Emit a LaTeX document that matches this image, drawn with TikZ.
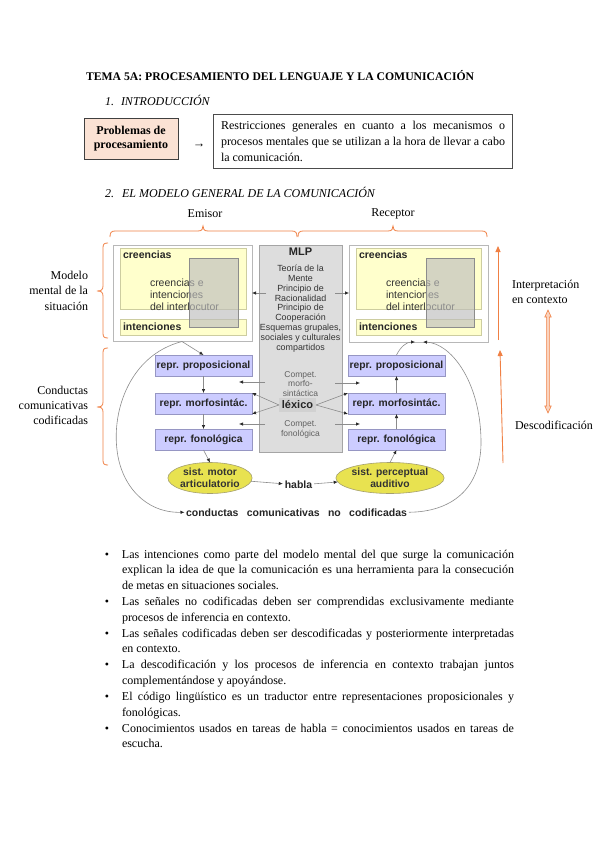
\documentclass[tikz,border=0pt]{standalone}
\usepackage{fontspec}
\setmainfont{Liberation Serif}
\setsansfont{Liberation Sans}
\usetikzlibrary{arrows.meta,shapes.geometric,calc}
\definecolor{orng}{RGB}{240,128,68}
\definecolor{pinkfill}{RGB}{251,226,212}
\definecolor{yfill}{RGB}{255,255,204}
\definecolor{yline}{RGB}{205,205,160}
\definecolor{lav}{RGB}{204,204,255}
\definecolor{lavline}{RGB}{150,150,195}
\definecolor{ellfill}{RGB}{232,226,80}
\definecolor{ellline}{RGB}{165,160,110}
\definecolor{mlpfill}{RGB}{221,221,221}
\definecolor{mlpline}{RGB}{165,165,165}
\definecolor{connc}{RGB}{140,140,140}
\newcommand{\fs}[2]{\fontsize{#1}{#2}\selectfont}
\newcommand{\bul}{\leavevmode\llap{•\hspace{13pt}}}
\newcommand{\obrtop}[4]{\draw[orline] (#1,#4) .. controls (#1,{#4-4}) and ({#1+1},{#4-6}) .. ({#1+5},{#4-6}) -- ({#2-5},{#4-6}) .. controls ({#2-1},{#4-6}) and (#2,{#4-8}) .. (#2,{#4-11}) .. controls (#2,{#4-8}) and ({#2+1},{#4-6}) .. ({#2+5},{#4-6}) -- ({#3-5},{#4-6}) .. controls ({#3-1},{#4-6}) and (#3,{#4-4}) .. (#3,#4);}
\newcommand{\obrleft}[4]{\draw[orline] (#1,#2) .. controls ({#1-4},#2) and ({#1-5},{#2+1}) .. ({#1-5},{#2+5}) -- ({#1-5},{#3-5}) .. controls ({#1-5},{#3-1}) and ({#1-7},#3) .. ({#1-11},#3) .. controls ({#1-7},#3) and ({#1-5},{#3+1}) .. ({#1-5},{#3+5}) -- ({#1-5},{#4-5}) .. controls ({#1-5},{#4-1}) and ({#1-4},#4) .. (#1,#4);}
\tikzset{
  orline/.style={draw=orng,line width=0.8pt},
  obox/.style={draw=black!28,fill=white,line width=0.8pt,anchor=north west},
  ybox/.style={draw=yline,fill=yfill,line width=0.8pt,anchor=north west},
  ovl/.style={draw=black!45,fill=black!26,fill opacity=0.65,line width=0.8pt,anchor=north west},
  mlpbox/.style={draw=mlpline,fill=mlpfill,line width=0.8pt,anchor=north west},
  rbox/.style={draw=lavline,fill=lav,line width=0.6pt,anchor=north west,minimum width=97pt,minimum height=21pt,font=\sffamily\bfseries\fs{10.3}{12},text=black!85},
  ellnode/.style={ellipse,draw=ellline,fill=ellfill,line width=0.6pt,minimum width=83pt,minimum height=31pt,align=center,font=\sffamily\bfseries\fs{10.3}{11.6},text=black!80},
  conn/.style={draw=connc,line width=0.6pt,-{Latex[length=4pt,width=3.4pt,color=black!85]}},
  oarrow/.style={draw=orng,line width=0.9pt,-{Triangle[length=6pt,width=5pt]}},
  serif12/.style={font=\fs{12}{15.8}},
  sansb/.style={font=\sffamily\bfseries\fs{10.5}{12},text=black!85},
}
\begin{document}
\begin{tikzpicture}[x=1pt,y=-1pt,every node/.style={inner sep=0pt,outer sep=0pt}]
\useasboundingbox[fill=white] (0,0) rectangle (599,848);

% ---------- heading
\node[anchor=base west,font=\fs{11.7}{14}\bfseries] (title) at (86,81) {TEMA 5A: PROCESAMIENTO DEL LENGUAJE Y LA COMUNICACIÓN};
\node[anchor=base west,font=\fs{12}{14}\itshape] (n1) at (105,106) {1.};
\node[anchor=base west,font=\fs{12}{14}\itshape] (h1) at (121,106) {INTRODUCCIÓN};

\node[draw=black!75,fill=pinkfill,line width=0.8pt,anchor=north west,minimum width=94pt,minimum height=41pt,align=center,font=\fs{12}{14}\bfseries] (prob) at (84,118) {Problemas de\\procesamiento};
\node[font=\fs{12.5}{14}] (arr) at (199,146) {→};
\node[draw=black!70,line width=0.8pt,anchor=north west,minimum width=299pt,minimum height=54pt] (restr) at (213,114) {};
\node[anchor=base west] (restrtxt) at (221,130) {\parbox[t]{284pt}{\fs{12}{15.8}Restricciones generales en cuanto a los mecanismos o\linebreak procesos mentales que se utilizan a la hora de llevar a cabo\linebreak la comunicación.}};

\node[anchor=base west,font=\fs{12}{14}\itshape] (n2) at (105,197) {2.};
\node[anchor=base west,font=\fs{12}{14}\itshape] (h2) at (122,197) {EL MODELO GENERAL DE LA COMUNICACIÓN};

% ---------- Emisor / Receptor
\node[anchor=base,serif12] (emisor) at (205,217) {Emisor};
\node[anchor=base,serif12] (receptor) at (393,216) {Receptor};
\obrtop{110}{203}{297}{237}
\obrtop{298}{393}{487}{237}
\obrleft{108}{243}{291}{338}
\obrleft{108}{348}{407}{465}

\node[anchor=base east] (lblM) at (88,279) {\parbox[t]{85pt}{\raggedleft\fs{12}{15.5}Modelo\\mental de la\\situación}};
\node[anchor=base east] (lblC) at (88,394) {\parbox[t]{85pt}{\raggedleft\fs{12}{15}Conductas\\comunicativas\\codificadas}};

% ---------- MLP
\node[mlpbox,minimum width=83pt,minimum height=207pt] (mlp) at (259,245) {};
\node[anchor=base,font=\sffamily\bfseries\fs{11}{12},text=black!85] (mlpt) at (300.5,255) {MLP};
\node[anchor=base] (mlptext) at (300.5,265) {\parbox[t]{84pt}{\centering\sffamily\fs{8.9}{9.85}\color{black!80}Teoría de la\\Mente\\Principio de\\Racionalidad\\Principio de\\Cooperación\\Esquemas grupales,\\sociales y culturales\\compartidos}};
\node[anchor=base] (cm) at (300.5,371.5) {\parbox[t]{60pt}{\centering\sffamily\fs{8.5}{9.4}\color{black!62}Compet.\\morfo-\\sintáctica}};
\node[anchor=base] (cf) at (300.5,420.5) {\parbox[t]{60pt}{\centering\sffamily\fs{8.5}{9.6}\color{black!62}Compet.\\fonológica}};
\node[fill=black!18,minimum width=37pt,minimum height=14pt,font=\sffamily\bfseries\fs{11}{12},text=black!85] (lex) at (297.5,405) {léxico};

% ---------- Emisor mental model
\node[obox,minimum width=139pt,minimum height=96pt] (eb) at (113,245) {};
\node[ybox,minimum width=126pt,minimum height=61pt] (ecre) at (120,248) {};
\node[ybox,minimum width=126pt,minimum height=16pt] (eint) at (120,319) {};
\node[anchor=base west,sansb] (ecret) at (123,258) {creencias};
\node[anchor=base west] (eci) at (150,279) {\parbox[t]{90pt}{\sffamily\fs{10.5}{12}\color{black!80}creencias e\\intenciones\\del interlocutor}};
\node[anchor=base west,sansb] (eintt) at (123,330) {intenciones};
\node[ovl,minimum width=49pt,minimum height=69pt] (eovl) at (189,258) {};

% ---------- Receptor mental model
\node[obox,minimum width=139pt,minimum height=97pt] (rb) at (349,245) {};
\node[ybox,minimum width=125pt,minimum height=61pt] (rcre) at (356,248) {};
\node[ybox,minimum width=125pt,minimum height=16pt] (rint) at (356,319) {};
\node[anchor=base west,sansb] (rcret) at (359,258) {creencias};
\node[anchor=base west] (rci) at (386,279) {\parbox[t]{90pt}{\sffamily\fs{10.5}{12}\color{black!80}creencias e\\intenciones\\del interlocutor}};
\node[anchor=base west,sansb] (rintt) at (359,330) {intenciones};
\node[ovl,minimum width=48pt,minimum height=69pt] (rovl) at (426,258) {};

% ---------- representation boxes
\node[rbox] (pL) at (155,355) {repr. proposicional};
\node[rbox] (mL) at (155,393) {repr. morfosintác.};
\node[rbox] (fL) at (155,429) {repr. fonológica};
\node[rbox] (pR) at (348,355) {repr. proposicional};
\node[rbox] (mR) at (348,393) {repr. morfosintác.};
\node[rbox] (fR) at (348,429) {repr. fonológica};

\node[ellnode] (elL) at (210,478) {sist. motor\\articulatorio};
\node[ellnode,minimum width=85pt] (elR) at (390,478) {sist. perceptual\\auditivo};
\node[sansb] (habla) at (298.5,485) {habla};
\node[anchor=base west,sansb] (nc) at (186,516) {conductas\hspace{8.3pt}comunicativas\hspace{8.3pt}no\hspace{8.3pt}codificadas};

% ---------- connectors
\coordinate (mlpL) at (266,293);
\coordinate (mlpR) at (335,293);
\draw[conn] (mlpL) -- (mlpL -| eb.east);
\draw[conn] (mlpR) -- (mlpR -| rb.west);

\coordinate (cmL) at (265,382);
\coordinate (cmLt) at (239,382);
\coordinate (cfL) at (265,424);
\coordinate (cfLt) at (239,424);
\coordinate (cmR) at (335,383);
\coordinate (cmRt) at (360,383);
\coordinate (cfR) at (335,424);
\coordinate (cfRt) at (360,424);
\draw[conn] (cmL) -- (cmLt);
\draw[conn] (cfL) -- (cfLt);
\draw[conn] (cmR) -- (cmRt);
\draw[conn] (cfR) -- (cfRt);

\draw[conn] (lex.west) -- (mL.north east);
\draw[conn] (lex.west) -- (mL.south east);
\draw[conn] (lex.east) -- (mR.north west);
\draw[conn] (lex.east) -- (mR.south west);

\draw[conn] (pL) -- (mL);
\draw[conn] (mL) -- (fL);
\draw[conn] (fL.south) -- (elL.north);
\draw[conn,shorten >=2pt] (elL) -- (habla);
\draw[conn,shorten <=2pt] (habla) -- (elR);
\draw[conn] (elR.north) -- (fR.south);
\draw[conn] (fR) -- (mR);
\draw[conn] (mR) -- (pR);

\coordinate (eS) at (182,341.5);
\coordinate (rS1) at (415,342);
\coordinate (rS2) at (423,342);
\draw[conn] (eS) -- (pL.north);
\draw[conn,shorten >=1.5pt] (eS) .. controls (130,355) and (112,410) .. (117,450) .. controls (121,485) and (145,513) .. (nc.west);
\draw[conn] (pR.north) .. controls (401,346) and (407,342) .. (rS1);
\draw[conn,shorten <=2pt] (nc.east) .. controls (450,512) and (482,490) .. (481,440) .. controls (480,380) and (450,343) .. (rS2);

% ---------- right side orange
\coordinate (oa1) at (498,340);
\coordinate (oa1t) at (498,246);
\coordinate (oa2) at (503,463);
\coordinate (oa2t) at (500,350);
\draw[oarrow] (oa1) -- (oa1t);
\draw[oarrow] (oa2) -- (oa2t);
\node[anchor=base west] (interp) at (512,288) {\parbox[t]{85pt}{\fs{12}{15}Interpretación\\en contexto}};
\node[anchor=base west,serif12] (desc) at (515,429) {Descodificación};
\draw[draw=orng,line width=0.6pt,fill=orng!35] (546.6,317) -- (544.8,317) -- (548,310) -- (551.2,317) -- (549.4,317) -- (549.4,406) -- (551.2,406) -- (548,413) -- (544.8,406) -- (546.6,406) -- cycle;

% ---------- bullets
\node[anchor=base west] (bullets) at (122,558) {\parbox[t]{392pt}{\fs{12}{15.83}\parskip=0pt
\bul Las intenciones como parte del modelo mental del que surge la comunicación\linebreak explican la idea de que la comunicación es una herramienta para la consecución\linebreak de metas en situaciones sociales.\par
\bul Las señales no codificadas deben ser comprendidas exclusivamente mediante\linebreak procesos de inferencia en contexto.\par
\bul Las señales codificadas deben ser descodificadas y posteriormente interpretadas\linebreak en contexto.\par
\bul La descodificación y los procesos de inferencia en contexto trabajan juntos\linebreak complementándose y apoyándose.\par
\bul El código lingüístico es un traductor entre representaciones proposicionales y\linebreak fonológicas.\par
\bul Conocimientos usados en tareas de habla = conocimientos usados en tareas de\linebreak escucha.}};
\end{tikzpicture}
\end{document}
